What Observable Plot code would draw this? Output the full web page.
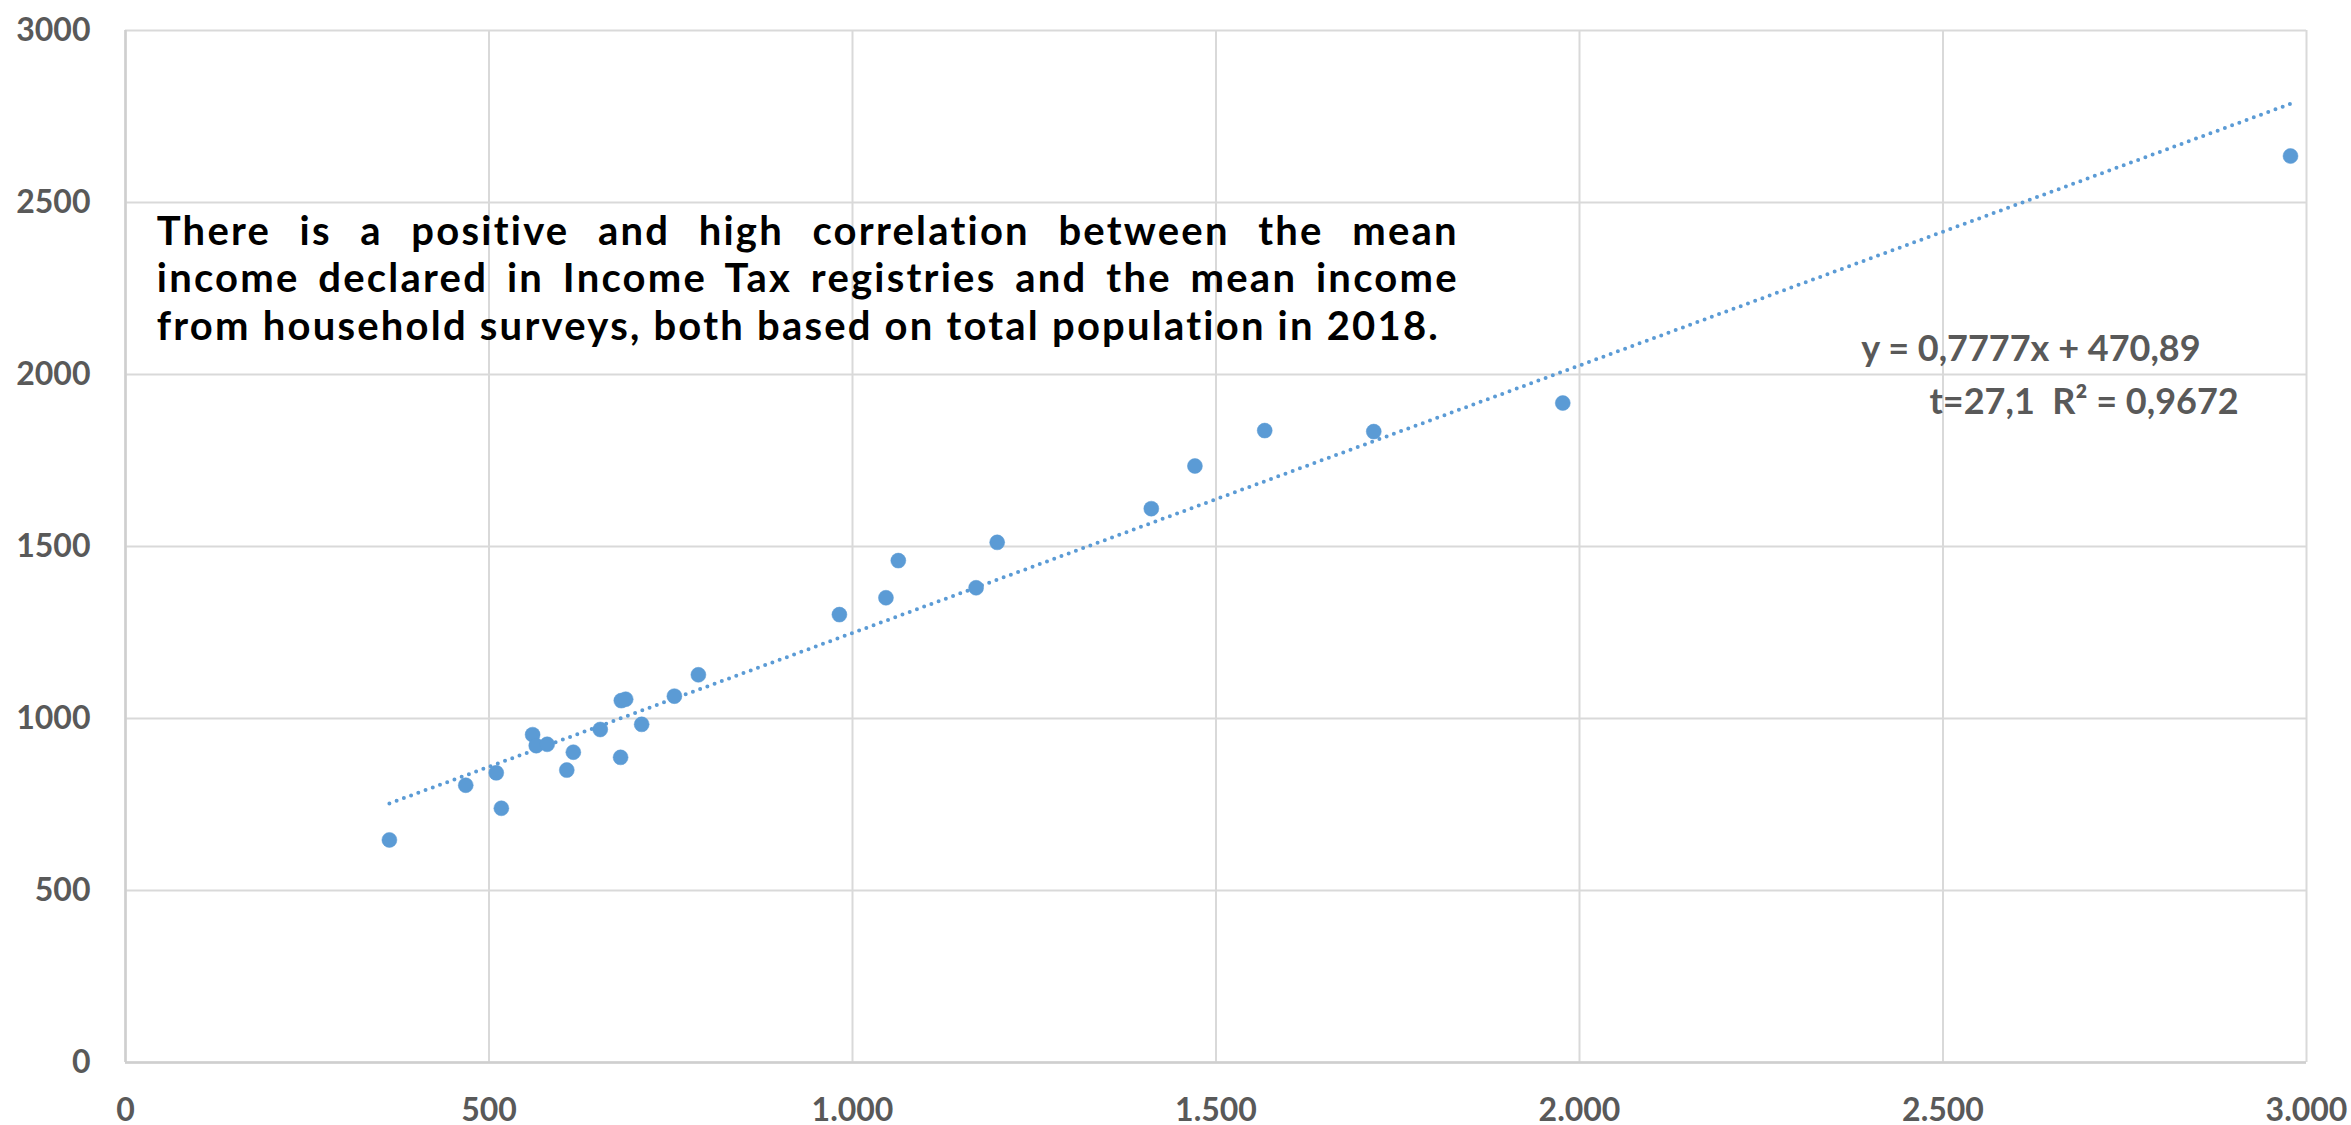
<!DOCTYPE html>
<html><head><meta charset="utf-8">
<script src="https://cdn.jsdelivr.net/npm/d3@7"></script>
<script src="https://cdn.jsdelivr.net/npm/@observablehq/plot@0.6"></script>
<style>html,body{margin:0;padding:0;background:#fff;overflow:hidden}</style>
</head><body><div id="chart"></div>
<script>
// Mean income from Income Tax registries (x) vs household surveys (y), 2018
const taxIncome    = [363, 468, 510, 517, 560, 565, 580, 607, 616, 653, 681, 682, 688, 710, 755, 788, 982, 1046, 1063, 1170, 1199, 1411, 1471, 1567, 1717, 1977, 2978];
const surveyIncome = [647, 806, 842, 739, 953, 921, 925, 850, 902, 968, 887, 1052, 1056, 983, 1065, 1127, 1302, 1351, 1459, 1380, 1512, 1610, 1734, 1837, 1834, 1917, 2635];
const xTicks = [0, 500, 1000, 1500, 2000, 2500, 3000];
const yTicks = [0, 500, 1000, 1500, 2000, 2500, 3000];
const slope = 0.7777;
const intercept = 470.89;
const equationLines = ["y = 0,7777x + 470,89", "t=27,1\u00a0\u00a0R\u00b2 = 0,9672"];
const noteLines = [
  "There is a positive and high correlation between the mean",
  "income declared in Income Tax registries and the mean income",
  "from household surveys, both based on total population in 2018."
];

const points = taxIncome.map((x, i) => ({x, y: surveyIncome[i]}));
const xMin = d3.min(taxIncome), xMax = d3.max(taxIncome);
const trend = [xMin, xMax].map(x => ({x, y: slope * x + intercept}));

const loc = d3.formatLocale({decimal: ",", thousands: ".", grouping: [3], currency: ["", ""]});
const fmtX = loc.format(",");

const blue = "#5B9BD5";
const grid = "#D9D9D9";
const noteSize = 40;

const chart = Plot.plot({
  width: 2351,
  height: 1125,
  marginLeft: 125,
  marginRight: 45,
  marginTop: 30,
  marginBottom: 63,
  style: {fontFamily: "Lato, 'Open Sans', sans-serif", fontWeight: "bold", color: "#595959", background: "#fff", overflow: "visible"},
  x: {domain: [0, 3000], ticks: xTicks, label: null},
  y: {domain: [0, 3000], ticks: yTicks, label: null},
  marks: [
    Plot.gridX(xTicks, {stroke: grid, strokeOpacity: 1, strokeWidth: 2}),
    Plot.gridY(yTicks, {stroke: grid, strokeOpacity: 1, strokeWidth: 2}),
    Plot.ruleY([0], {stroke: "#CFCFCF", strokeWidth: 2.5}),
    Plot.ruleX([0], {stroke: "#CFCFCF", strokeWidth: 2.5}),
    Plot.axisX(xTicks, {tickSize: 0, tickPadding: 36, fontSize: 32, tickFormat: fmtX, fill: "#595959", label: null}),
    Plot.axisY(yTicks, {tickSize: 0, tickPadding: 35, fontSize: 32, tickFormat: d => String(d), fill: "#595959", label: null}),
    Plot.line(trend, {x: "x", y: "y", stroke: blue, strokeWidth: 4, strokeDasharray: "0,7.7", strokeLinecap: "round"}),
    Plot.dot(points, {x: "x", y: "y", r: 7.5, fill: blue, stroke: blue, strokeWidth: 0.5}),
    Plot.text([noteLines.join("\n")], {x: 43, y: 2283, text: d => d, textAnchor: "start", lineAnchor: "middle",
      lineHeight: 47.5 / noteSize, fontSize: noteSize, fontWeight: "bold", fill: "#000", className: "note"}),
    Plot.text([equationLines[0]], {x: 2621, y: 2073, text: d => d, textAnchor: "middle", lineAnchor: "middle",
      fontSize: 36, fontWeight: "bold", fill: "#595959"}),
    Plot.text([equationLines[1]], {x: 2694, y: 1919, text: d => d, textAnchor: "middle", lineAnchor: "middle",
      fontSize: 36, fontWeight: "bold", fill: "#595959"})
  ]
});
document.getElementById("chart").appendChild(chart);

// Fit the annotation box: last line to its natural width in the original,
// other lines justified to the box width, like the original text box
function justify() {
  const boxWidth = 1302, lastWidth = 1284;
  chart.querySelectorAll("g.note text").forEach(t => {
    const spans = Array.from(t.querySelectorAll("tspan"));
    if (!spans.length) return;
    t.style.letterSpacing = "0px";
    spans.forEach(s => s.style.wordSpacing = "0px");
    const last = spans[spans.length - 1];
    const ls = (lastWidth - last.getComputedTextLength()) / last.textContent.length;
    t.style.letterSpacing = ls + "px";
    spans.forEach((s, i) => {
      if (i === spans.length - 1) return;
      const len = s.getComputedTextLength();
      const gaps = (s.textContent.match(/ /g) || []).length;
      if (gaps) s.style.wordSpacing = ((boxWidth - len) / gaps) + "px";
    });
  });
}
document.fonts.ready.then(justify);
justify();
</script>
</body></html>
